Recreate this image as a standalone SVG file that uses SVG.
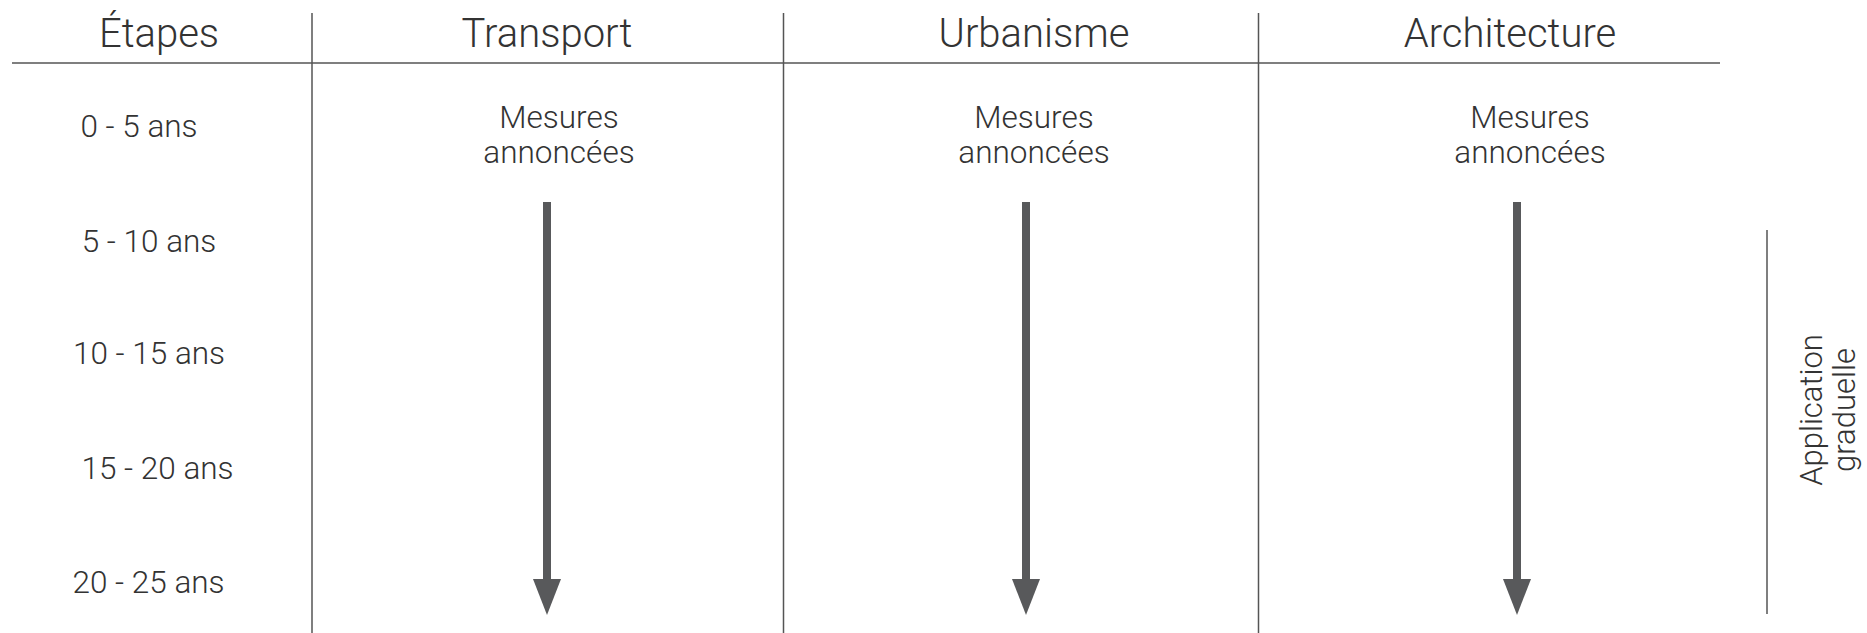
<svg xmlns="http://www.w3.org/2000/svg" width="1867" height="633" viewBox="0 0 1867 633">
<style>
.t{font-family:Roboto,"Liberation Sans",sans-serif;font-weight:300;fill:#333;text-anchor:middle}
.h{font-size:40px}
.b{font-size:31.5px}
.r{font-size:31px}
.grid{stroke:#555;stroke-width:1.5;fill:none}
.shaft{stroke:#58595b;stroke-width:8}
.head{fill:#58595b}
</style>
<g id="grid">
<line class="grid" x1="12" y1="63" x2="1720" y2="63"/>
<line class="grid" x1="312" y1="13" x2="312" y2="633"/>
<line class="grid" x1="783.5" y1="13" x2="783.5" y2="633"/>
<line class="grid" x1="1258.5" y1="13" x2="1258.5" y2="633"/>
</g>
<g id="headers">
<text class="t h" x="159" y="47">Étapes</text>
<text class="t h" x="547" y="47">Transport</text>
<text class="t h" x="1034" y="47">Urbanisme</text>
<text class="t h" x="1510" y="47">Architecture</text>
</g>
<g id="etapes">
<text class="t b" x="139" y="137">0 - 5 ans</text>
<text class="t b" x="149" y="252">5 - 10 ans</text>
<text class="t b" x="149" y="364">10 - 15 ans</text>
<text class="t b" x="157.5" y="479">15 - 20 ans</text>
<text class="t b" x="148.5" y="593">20 - 25 ans</text>
</g>
<g id="transport">
<text class="t b" x="559" y="128">Mesures</text>
<text class="t b" x="559" y="163">annoncées</text>
</g>
<g id="urbanisme">
<text class="t b" x="1034" y="128">Mesures</text>
<text class="t b" x="1034" y="163">annoncées</text>
</g>
<g id="architecture">
<text class="t b" x="1530" y="128">Mesures</text>
<text class="t b" x="1530" y="163">annoncées</text>
</g>
<g id="application">
<line class="grid" x1="1767" y1="230" x2="1767" y2="614"/>
<text class="t r" transform="translate(1822 410) rotate(-90)"><tspan x="0" y="0">Application</tspan><tspan x="0" y="33">graduelle</tspan></text>
</g>
<g id="connectors">
<line class="shaft" x1="547" y1="202" x2="547" y2="582"/>
<polygon class="head" points="533,579 561,579 547,615"/>
<line class="shaft" x1="1026" y1="202" x2="1026" y2="582"/>
<polygon class="head" points="1012,579 1040,579 1026,615"/>
<line class="shaft" x1="1517" y1="202" x2="1517" y2="582"/>
<polygon class="head" points="1503,579 1531,579 1517,615"/>
</g>
</svg>
